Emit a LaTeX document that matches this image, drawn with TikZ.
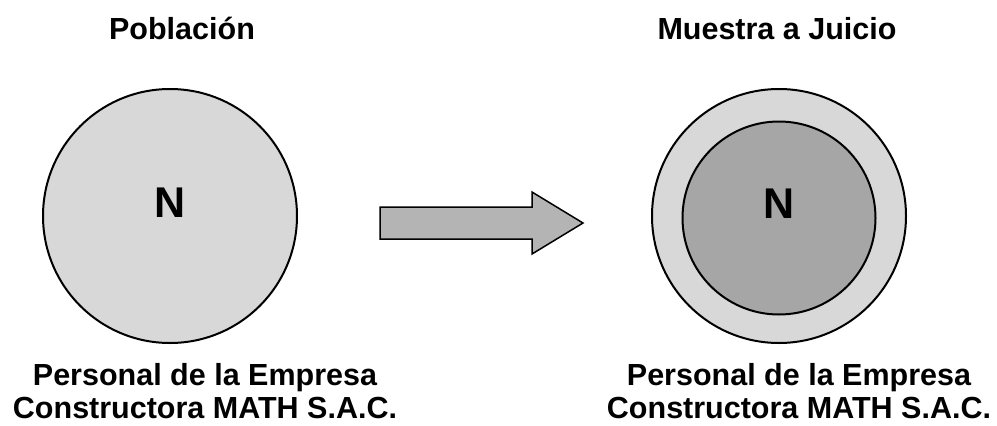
\documentclass[tikz,border=0pt]{standalone}
\usepackage{fontspec}
\setmainfont{Liberation Sans}
\begin{document}
\begin{tikzpicture}[x=1pt,y=-1pt,
  outline/.style={draw=black,line width=2pt},
  lightfill/.style={fill={rgb,255:red,216;green,216;blue,216}},
  darkfill/.style={fill={rgb,255:red,166;green,166;blue,166}},
  arrowfill/.style={fill={rgb,255:red,180;green,180;blue,180}},
  heading/.style={font=\fontsize{30.5}{33}\selectfont\bfseries,anchor=base,inner sep=0pt},
  caption/.style={font=\fontsize{30.5}{33}\selectfont\bfseries,anchor=base,inner sep=0pt,align=center},
  letter/.style={font=\fontsize{43}{43}\selectfont\bfseries,anchor=base,inner sep=0pt}]
\useasboundingbox (0,0) rectangle (997,426);

% left: the whole population
\node[heading] (tpop) at (182,39) {Población};
\draw[outline,lightfill] (170,216) circle (127);
\node[letter] (npop) at (170,217) {N};
\node[caption] (cpop1) at (205,385) {Personal de la Empresa};
\node[caption] (cpop2) at (205,418) {Constructora MATH S.A.C.};

% block arrow between the two groups
\draw[draw=black,line width=1.5pt,arrowfill,line join=miter]
  (380,207) -- (532,207) -- (532,192) -- (583,223) -- (532,254) -- (532,239) -- (380,239) -- cycle;

% right: judgement sample inside the population
\node[heading] (tsam) at (777,39) {Muestra a Juicio};
\draw[outline,lightfill] (779,216) circle (127);
\draw[outline,darkfill] (779,218) circle (96.5);
\node[letter] (nsam) at (779,218) {N};
\node[caption] (csam1) at (799,385) {Personal de la Empresa};
\node[caption] (csam2) at (799,418) {Constructora MATH S.A.C.};
\end{tikzpicture}
\end{document}
